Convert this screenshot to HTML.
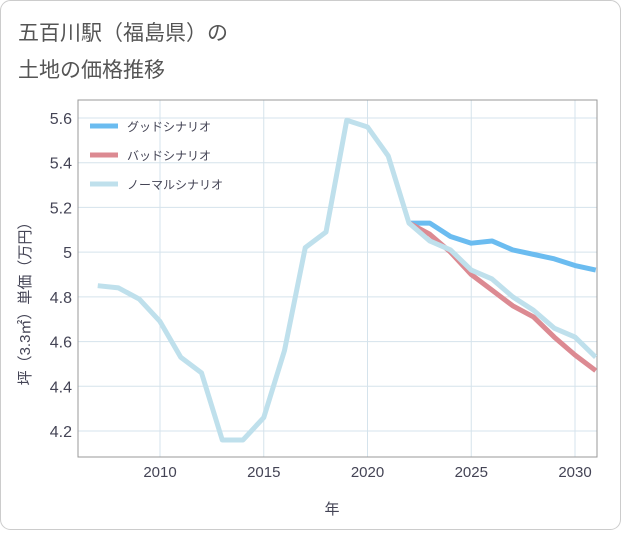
<!DOCTYPE html>
<html><head><meta charset="utf-8"><style>
body{margin:0;background:#fff;font-family:"Liberation Sans","Noto Sans CJK JP",sans-serif;}
#wrap{position:relative;width:621px;height:530px;}
</style></head><body>
<div id="wrap">
<svg id="chart" width="621" height="530" xmlns="http://www.w3.org/2000/svg">
<rect x="0.5" y="0.5" width="620" height="529" rx="10" fill="#fff" stroke="#ccc"/>
<text x="18" y="40" font-size="21" fill="#555">五百川駅（福島県）の</text>
<text x="18" y="77" font-size="21" fill="#555">土地の価格推移</text>
<g id="grid"></g><g id="axes"></g><g id="series"></g><g id="legend"></g>
<text x="332" y="514" font-size="15" fill="#445" text-anchor="middle">年</text>
<text transform="translate(30,300) rotate(-90)" font-size="15" fill="#445" text-anchor="middle">坪（3.3㎡）単価（万円）</text>
</svg></div>
<script>
const years=[2007,2008,2009,2010,2011,2012,2013,2014,2015,2016,2017,2018,2019,2020,2021,2022,2023,2024,2025,2026,2027,2028,2029,2030,2031];
const normal=[4.85,4.84,4.79,4.69,4.53,4.46,4.16,4.16,4.26,4.56,5.02,5.09,5.59,5.56,5.43,5.13,5.05,5.01,4.92,4.88,4.80,4.74,4.66,4.62,4.53];
const fYears=[2022,2023,2024,2025,2026,2027,2028,2029,2030,2031];
const good=[5.13,5.13,5.07,5.04,5.05,5.01,4.99,4.97,4.94,4.92];
const bad=[5.13,5.08,5.00,4.90,4.83,4.76,4.71,4.62,4.54,4.47];
const xTicks=[2010,2015,2020,2025,2030];
const yTicks=[4.2,4.4,4.6,4.8,5,5.2,5.4,5.6];
const L=78,R=597,T=100,B=457;
const x=v=>160+(v-2010)*20.75;
const y=v=>118+(5.6-v)*(313/1.4);
const NS="http://www.w3.org/2000/svg";
function mk(p,t,a){const e=document.createElementNS(NS,t);for(const k in a)e.setAttribute(k,a[k]);p.appendChild(e);return e;}
const grid=document.getElementById('grid'),axes=document.getElementById('axes'),ser=document.getElementById('series'),leg=document.getElementById('legend');
for(const t of xTicks){const l=mk(grid,'line',{x1:x(t),x2:x(t),y1:T,y2:B,stroke:'#d5e3ec'});


const tx=mk(axes,'text',{x:x(t),y:B+20,'font-size':15,fill:'#445','text-anchor':'middle'});tx.textContent=t;

}
for(const t of yTicks){const l=mk(grid,'line',{x1:L,x2:R,y1:y(t),y2:y(t),stroke:'#d5e3ec'});


const tx=mk(axes,'text',{x:L-6,y:y(t)+6,'font-size':16,fill:'#445','text-anchor':'end'});tx.textContent=(t===5?'5':t.toFixed(1));

}
const fr=mk(axes,'rect',{x:L,y:T,width:R-L,height:B-T,fill:'none',stroke:'#999'});


const cp=mk(document.getElementById('chart'),'clipPath',{id:'cp'});mk(cp,'rect',{x:L,y:T,width:R-L,height:B-T});
ser.setAttribute('clip-path','url(#cp)');
function line(xs,vs,c,name){const p=mk(ser,'polyline',{points:xs.map((v,i)=>x(v)+','+y(vs[i])).join(' '),fill:'none',stroke:c,'stroke-width':5,'stroke-linejoin':'round'});

}
line(fYears,good,'#6bbcf0','good-scenario-line');
line(fYears,bad,'#dc8a92','bad-scenario-line');
line(years,normal,'#bfe0ec','normal-scenario-line');
const items=[['グッドシナリオ','#6bbcf0'],['バッドシナリオ','#dc8a92'],['ノーマルシナリオ','#bfe0ec']];
items.forEach((it,i)=>{const yy=126+i*29;
const l=mk(leg,'line',{x1:90,x2:118,y1:yy,y2:yy,stroke:it[1],'stroke-width':5});


const t=mk(leg,'text',{x:127,y:yy+5,'font-size':12,fill:'#445'});t.textContent=it[0];

});
</script></body></html>
